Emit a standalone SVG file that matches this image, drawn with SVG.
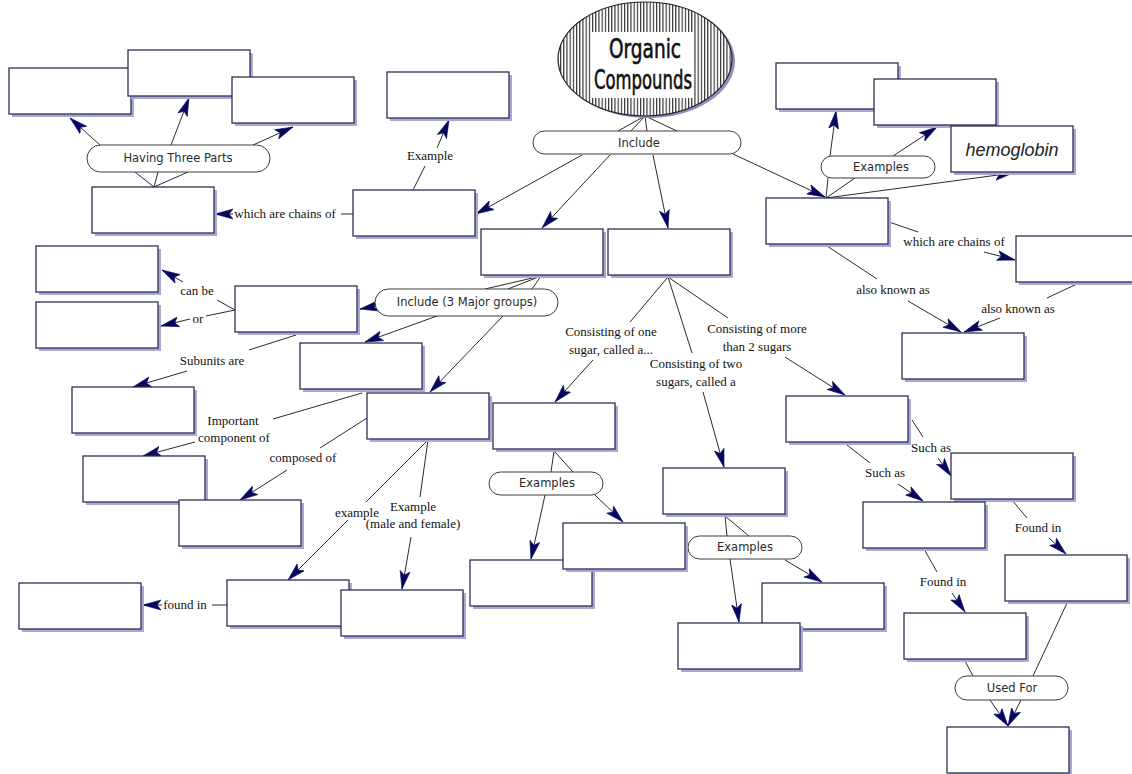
<svg xmlns="http://www.w3.org/2000/svg" width="1132" height="774" viewBox="0 0 1132 774">
<style>
.bx{fill:#ffffff;stroke:#2e2e52;stroke-width:1.3}
.sh{fill:#a9a9d8}
.pl{fill:#ffffff;stroke:#3a3a3a;stroke-width:1}
.pt{font-family:"DejaVu Sans",Verdana,sans-serif;font-size:11.5px;fill:#2a2a2a;text-anchor:middle}
.lt{font-family:"Liberation Serif","Times New Roman",serif;font-size:13px;fill:#111;text-anchor:middle}
.ln{stroke:#2a2a2a;stroke-width:1;fill:none}
.ar{stroke:#2a2a2a;stroke-width:1;fill:none;marker-end:url(#ah)}
.rt{font-family:"DejaVu Sans Condensed","Liberation Sans Narrow",sans-serif;font-size:26px;font-weight:normal;fill:#111;stroke:#111;stroke-width:0.6;text-anchor:middle}
</style>
<defs>
<marker id="ah" markerUnits="userSpaceOnUse" markerWidth="20" markerHeight="12" viewBox="0 -6 20 12" refX="18" refY="0" orient="auto">
<path d="M0,-5 L18,0 L0,5 L4,0 z" fill="#06065e" stroke="#06065e" stroke-width="0.6" stroke-linejoin="round"/>
</marker>
<pattern id="hatch" patternUnits="userSpaceOnUse" width="3.2" height="10">
<rect width="3.2" height="10" fill="#ffffff"/>
<line x1="0.6" y1="0" x2="0.6" y2="10" stroke="#111" stroke-width="1"/>
</pattern>
<g id="box"><rect class="sh" x="3" y="3" width="122" height="46"/><rect class="bx" x="0" y="0" width="122" height="46"/></g>
</defs>
<rect width="1132" height="774" fill="#ffffff"/>

<g id="connectors">
<line class="ln" x1="645" y1="116" x2="618" y2="131"/>
<line class="ln" x1="645" y1="116" x2="631" y2="131"/>
<line class="ln" x1="645" y1="116" x2="647" y2="131"/>
<line class="ln" x1="645" y1="116" x2="677" y2="131"/>
<line class="ar" x1="582" y1="155" x2="476" y2="214"/>
<line class="ar" x1="610" y1="155" x2="542" y2="228"/>
<line class="ar" x1="653" y1="155" x2="668" y2="228"/>
<line class="ar" x1="733" y1="154" x2="825" y2="197"/>
<line class="ln" x1="413" y1="190" x2="425" y2="166"/>
<line class="ar" x1="437" y1="148" x2="449" y2="120"/>
<line class="ln" x1="353" y1="214" x2="341" y2="214"/>
<line class="ar" x1="233" y1="214" x2="215" y2="214"/>
<line class="ln" x1="154" y1="187" x2="135" y2="172"/>
<line class="ln" x1="154" y1="187" x2="158" y2="172"/>
<line class="ln" x1="154" y1="187" x2="188" y2="172"/>
<line class="ar" x1="100" y1="145" x2="70" y2="118"/>
<line class="ar" x1="171" y1="145" x2="189" y2="98"/>
<line class="ar" x1="253" y1="145" x2="293" y2="127"/>
<line class="ln" x1="826" y1="198" x2="828" y2="178"/>
<line class="ln" x1="826" y1="198" x2="855" y2="178"/>
<line class="ar" x1="830" y1="156" x2="836" y2="111"/>
<line class="ar" x1="893" y1="156" x2="937" y2="127"/>
<line class="ar" x1="826" y1="198" x2="1013" y2="173"/>
<line class="ln" x1="889" y1="222" x2="918" y2="232"/>
<line class="ar" x1="984" y1="252" x2="1015" y2="260"/>
<line class="ln" x1="827" y1="246" x2="877" y2="279"/>
<line class="ar" x1="908" y1="301" x2="961" y2="332"/>
<line class="ln" x1="1077" y1="284" x2="1047" y2="298"/>
<line class="ar" x1="1000" y1="318" x2="964" y2="332"/>
<line class="ln" x1="541" y1="276" x2="485" y2="289"/>
<line class="ln" x1="541" y1="276" x2="508" y2="289"/>
<line class="ln" x1="541" y1="276" x2="532" y2="289"/>
<line class="ar" x1="378" y1="306" x2="360" y2="309"/>
<line class="ar" x1="437" y1="316" x2="365" y2="342"/>
<line class="ar" x1="503" y1="316" x2="430" y2="392"/>
<line class="ln" x1="235" y1="310" x2="217" y2="300"/>
<line class="ar" x1="183" y1="282" x2="162" y2="270"/>
<line class="ln" x1="235" y1="310" x2="206" y2="316"/>
<line class="ar" x1="190" y1="319" x2="161" y2="326"/>
<line class="ln" x1="296" y1="335" x2="249" y2="350"/>
<line class="ar" x1="187" y1="371" x2="133" y2="387"/>
<line class="ln" x1="362" y1="393" x2="273" y2="419"/>
<line class="ar" x1="195" y1="442" x2="143" y2="456"/>
<line class="ln" x1="367" y1="418" x2="320" y2="448"/>
<line class="ar" x1="287" y1="470" x2="240" y2="500"/>
<line class="ln" x1="428" y1="440" x2="366" y2="502"/>
<line class="ar" x1="348" y1="520" x2="288" y2="580"/>
<line class="ln" x1="428" y1="440" x2="420" y2="497"/>
<line class="ar" x1="411" y1="537" x2="402" y2="589"/>
<line class="ln" x1="227" y1="605" x2="212" y2="605"/>
<line class="ar" x1="162" y1="605" x2="143" y2="605"/>
<line class="ln" x1="668" y1="277" x2="630" y2="322"/>
<line class="ar" x1="593" y1="360" x2="555" y2="402"/>
<line class="ln" x1="668" y1="277" x2="692" y2="353"/>
<line class="ar" x1="703" y1="392" x2="724" y2="467"/>
<line class="ln" x1="668" y1="277" x2="728" y2="318"/>
<line class="ar" x1="785" y1="357" x2="845" y2="395"/>
<line class="ln" x1="554" y1="451" x2="551" y2="472"/>
<line class="ln" x1="554" y1="451" x2="573" y2="472"/>
<line class="ar" x1="545" y1="495" x2="531" y2="559"/>
<line class="ar" x1="595" y1="495" x2="623" y2="522"/>
<line class="ln" x1="725" y1="516" x2="727" y2="536"/>
<line class="ln" x1="725" y1="516" x2="749" y2="536"/>
<line class="ar" x1="730" y1="559" x2="739" y2="622"/>
<line class="ar" x1="785" y1="560" x2="822" y2="582"/>
<line class="ln" x1="912" y1="420" x2="923" y2="437"/>
<line class="ar" x1="938" y1="458" x2="951" y2="476"/>
<line class="ln" x1="847" y1="445" x2="870" y2="463"/>
<line class="ar" x1="898" y1="484" x2="923" y2="501"/>
<line class="ln" x1="1012" y1="500" x2="1027" y2="518"/>
<line class="ar" x1="1049" y1="538" x2="1066" y2="554"/>
<line class="ln" x1="924" y1="549" x2="937" y2="572"/>
<line class="ar" x1="952" y1="593" x2="965" y2="612"/>
<line class="ln" x1="965" y1="661" x2="973" y2="676"/>
<line class="ln" x1="1067" y1="603" x2="1033" y2="676"/>
<line class="ar" x1="990" y1="700" x2="1008" y2="726"/>
<line class="ar" x1="1021" y1="700" x2="1008" y2="726"/>
<text class="lt" x="285" y="218">which are chains of</text>
<text class="lt" x="430" y="160">Example</text>
<text class="lt" x="197" y="295">can be</text>
<text class="lt" x="198" y="323">or</text>
<text class="lt" x="212" y="365">Subunits are</text>
<text class="lt" x="233" y="425">Important</text>
<text class="lt" x="234" y="442">component of</text>
<text class="lt" x="303" y="462">composed of</text>
<text class="lt" x="357" y="517">example</text>
<text class="lt" x="413" y="511">Example</text>
<text class="lt" x="413" y="528">(male and female)</text>
<text class="lt" x="185" y="609">found in</text>
<text class="lt" x="611" y="336">Consisting of one</text>
<text class="lt" x="611" y="354">sugar, called a...</text>
<text class="lt" x="696" y="368">Consisting of two</text>
<text class="lt" x="696" y="386">sugars, called a</text>
<text class="lt" x="757" y="333">Consisting of more</text>
<text class="lt" x="757" y="351">than 2 sugars</text>
<text class="lt" x="954" y="246">which are chains of</text>
<text class="lt" x="893" y="294">also known as</text>
<text class="lt" x="1018" y="313">also known as</text>
<text class="lt" x="931" y="452">Such as</text>
<text class="lt" x="885" y="477">Such as</text>
<text class="lt" x="1038" y="532">Found in</text>
<text class="lt" x="943" y="586">Found in</text>
</g>

<g id="p_include"><rect class="pl" x="533" y="131" width="208" height="23" rx="11.5"/><text class="pt" x="639" y="147">Include</text></g>
<g id="p_three"><rect class="pl" x="87" y="145" width="183" height="27" rx="13.5"/><text class="pt" x="178" y="162">Having Three Parts</text></g>
<g id="p_examples1"><rect class="pl" x="821" y="156" width="114" height="22" rx="11"/><text class="pt" x="881" y="171">Examples</text></g>
<g id="p_major"><rect class="pl" x="375" y="289" width="183" height="27" rx="13.5"/><text class="pt" x="467" y="306">Include (3 Major groups)</text></g>
<g id="p_examples2"><rect class="pl" x="489" y="472" width="114" height="23" rx="11.5"/><text class="pt" x="547" y="487">Examples</text></g>
<g id="p_examples3"><rect class="pl" x="688" y="536" width="114" height="23" rx="11.5"/><text class="pt" x="745" y="551">Examples</text></g>
<g id="p_usedfor"><rect class="pl" x="955" y="676" width="113" height="24" rx="12"/><text class="pt" x="1012" y="692">Used For</text></g>

<g id="root">
<ellipse cx="648" cy="61" rx="87" ry="57" fill="#8f8fc8"/>
<ellipse cx="645" cy="59" rx="87" ry="57" fill="url(#hatch)" stroke="#222" stroke-width="1.2"/>
<rect x="592" y="32" width="102" height="66" fill="#ffffff"/>
<text class="rt" x="645" y="58" textLength="72" lengthAdjust="spacingAndGlyphs">Organic</text>
<text class="rt" x="643" y="89" textLength="98" lengthAdjust="spacingAndGlyphs">Compounds</text>
</g>

<g id="n1"><use href="#box" x="9" y="68"/></g>
<g id="n2"><use href="#box" x="128" y="50"/></g>
<g id="n3"><use href="#box" x="232" y="77"/></g>
<g id="n4"><use href="#box" x="92" y="187"/></g>
<g id="n5"><use href="#box" x="353" y="190"/></g>
<g id="n6"><use href="#box" x="387" y="72"/></g>
<g id="n7"><use href="#box" x="481" y="229"/></g>
<g id="n8"><use href="#box" x="608" y="229"/></g>
<g id="n9"><use href="#box" x="766" y="198"/></g>
<g id="n10"><use href="#box" x="776" y="63"/></g>
<g id="n11"><use href="#box" x="874" y="79"/></g>
<g id="n12"><use href="#box" x="951" y="126"/><text x="1012" y="156" font-family="'Liberation Sans',Arial,sans-serif" font-style="italic" font-size="18" fill="#222" text-anchor="middle">hemoglobin</text></g>
<g id="n13"><use href="#box" x="1016" y="236"/></g>
<g id="n14"><use href="#box" x="902" y="333"/></g>
<g id="n15"><use href="#box" x="36" y="246"/></g>
<g id="n16"><use href="#box" x="36" y="302"/></g>
<g id="n17"><use href="#box" x="235" y="286"/></g>
<g id="n18"><use href="#box" x="300" y="343"/></g>
<g id="n19"><use href="#box" x="367" y="393"/></g>
<g id="n20"><use href="#box" x="72" y="387"/></g>
<g id="n21"><use href="#box" x="83" y="456"/></g>
<g id="n22"><use href="#box" x="179" y="500"/></g>
<g id="n23"><use href="#box" x="227" y="580"/></g>
<g id="n24"><use href="#box" x="341" y="590"/></g>
<g id="n25"><use href="#box" x="19" y="583"/></g>
<g id="n26"><use href="#box" x="493" y="403"/></g>
<g id="n27"><use href="#box" x="663" y="468"/></g>
<g id="n28"><use href="#box" x="786" y="396"/></g>
<g id="n29"><use href="#box" x="470" y="560"/></g>
<g id="n30"><use href="#box" x="563" y="523"/></g>
<g id="n31"><use href="#box" x="762" y="583"/></g>
<g id="n32"><use href="#box" x="678" y="623"/></g>
<g id="n33"><use href="#box" x="951" y="453"/></g>
<g id="n34"><use href="#box" x="863" y="502"/></g>
<g id="n35"><use href="#box" x="1005" y="555"/></g>
<g id="n36"><use href="#box" x="904" y="613"/></g>
<g id="n37"><use href="#box" x="947" y="727"/></g>
</svg>
